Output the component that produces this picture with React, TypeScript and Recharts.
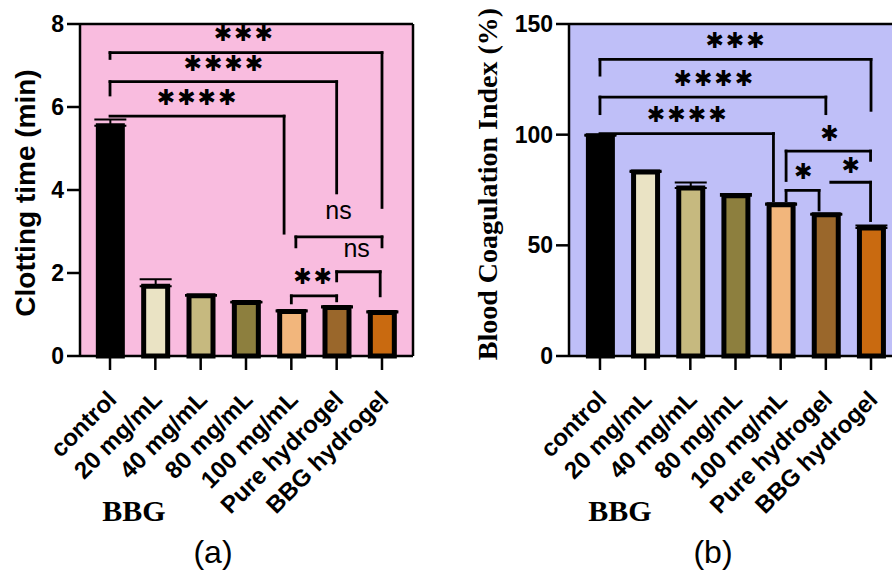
import React from 'react';
import {
  BarChart,
  Bar,
  XAxis,
  YAxis,
  Cell,
  ErrorBar,
  CartesianGrid,
  ReferenceLine,
  ReferenceDot,
} from 'recharts';

const groups = ['control', '20 mg/mL', '40 mg/mL', '80 mg/mL', '100 mg/mL', 'Pure hydrogel', 'BBG hydrogel'];
const barColors = ['#000000', '#EAE3C4', '#C6B97F', '#8D7F3E', '#F2B67C', '#9A672B', '#C96A10'];
const groupIndex = [0, 1, 2, 3, 4, 5, 6];

// (a) clotting time, min
const clottingTime = [5.55, 1.68, 1.45, 1.29, 1.07, 1.17, 1.05];
const clottingSd = [0.15, 0.17, 0.02, 0.02, 0.03, 0.03, 0.03];
const clottingTicks = [0, 2, 4, 6, 8];

// (b) blood coagulation index, %
const bciValues = [99.5, 83.1, 75.9, 72.4, 68.3, 63.8, 57.8];
const bciSd = [0.5, 0.6, 2.5, 0.8, 0.6, 0.5, 1.2];
const bciTicks = [0, 50, 100, 150];

// significance brackets: group index range, bar level, where each leg ends
type Bracket = { from: number; to: number; y: number; fromEnd: number; toEnd: number };
type Mark = { x: number; y: number; text: string };

const clottingBrackets: Bracket[] = [
  { from: 0, to: 3.84, y: 5.78, fromEnd: 5.78, toEnd: 2.96 },
  { from: 0, to: 5.0, y: 6.61, fromEnd: 6.29, toEnd: 3.93 },
  { from: 0, to: 6.0, y: 7.31, fromEnd: 7.17, toEnd: 3.58 },
  { from: 4.1, to: 6.0, y: 2.87, fromEnd: 2.63, toEnd: 2.63 },
  { from: 5.0, to: 5.96, y: 2.03, fromEnd: 1.81, toEnd: 1.45 },
  { from: 4.0, to: 5.0, y: 1.45, fromEnd: 1.28, toEnd: 1.33 },
];
const clottingMarks: Mark[] = [
  { x: 1.91, y: 6.25, text: '****' },
  { x: 2.5, y: 7.05, text: '****' },
  { x: 2.94, y: 7.78, text: '***' },
  { x: 5.04, y: 3.48, text: 'ns' },
  { x: 5.44, y: 2.55, text: 'ns' },
  { x: 4.47, y: 1.93, text: '**' },
];

const bciBrackets: Bracket[] = [
  { from: 0, to: 6, y: 134, fromEnd: 126.9, toEnd: 111 },
  { from: 0, to: 5.0, y: 117, fromEnd: 109.5, toEnd: 109.5 },
  { from: 0, to: 3.84, y: 100.5, fromEnd: 100.5, toEnd: 70.2 },
  { from: 4.12, to: 5.99, y: 92.6, fromEnd: 79.3, toEnd: 88.4 },
  { from: 4.12, to: 4.85, y: 74.8, fromEnd: 70.2, toEnd: 66 },
  { from: 5.11, to: 5.99, y: 78.5, fromEnd: 78.5, toEnd: 61.2 },
];
const bciMarks: Mark[] = [
  { x: 2.99, y: 142.7, text: '***' },
  { x: 2.51, y: 125.8, text: '****' },
  { x: 1.92, y: 109.5, text: '****' },
  { x: 5.08, y: 100.7, text: '*' },
  { x: 4.5, y: 83.4, text: '*' },
  { x: 5.55, y: 86.5, text: '*' },
];

const SANS = '"Liberation Sans", Arial, sans-serif';
const SERIF = '"Liberation Serif", "Times New Roman", serif';

const GroupTick = (props: any) => {
  const { x, y, payload } = props;
  return (
    <g transform={`translate(${x},${y})`}>
      <text
        x={0}
        y={0}
        transform="translate(8,29) rotate(-45)"
        textAnchor="end"
        fontFamily={SANS}
        fontWeight="bold"
        fontSize={24}
        fill="#000"
      >
        {groups[payload.value]}
      </text>
    </g>
  );
};

const AxisTitle = (props: any) => {
  const { viewBox, value, dx, dy, font, size } = props;
  const cx = viewBox.x + dx;
  const cy = viewBox.y + viewBox.height / 2 + dy;
  return (
    <text
      x={cx}
      y={cy}
      transform={`rotate(-90 ${cx} ${cy})`}
      textAnchor="middle"
      dominantBaseline="central"
      fontFamily={font}
      fontWeight="bold"
      fontSize={size}
      fill="#000"
    >
      {value}
    </text>
  );
};

// heavy asterisk glyph keeps the star rows compact
const SigText = (props: any) => {
  const { viewBox, text } = props;
  const cx = viewBox.x + viewBox.width / 2;
  const cy = viewBox.y + viewBox.height / 2;
  if (text === 'ns') {
    return (
      <text x={cx} y={cy + 7} textAnchor="middle" fontFamily={SANS} fontSize={25} fill="#000">
        {text}
      </text>
    );
  }
  return (
    <text
      x={cx + 1}
      y={cy + 8}
      textAnchor="middle"
      fontFamily='"DejaVu Sans", sans-serif'
      fontSize={22}
      letterSpacing={2}
      fill="#000"
    >
      {text.replace(/\*/g, '\u2731')}
    </text>
  );
};

function bracketLines(b: Bracket, i: number) {
  const segs: { x: number; y: number }[][] = [];
  if (b.fromEnd !== b.y) segs.push([{ x: b.from, y: b.fromEnd }, { x: b.from, y: b.y }]);
  segs.push([{ x: b.from, y: b.y }, { x: b.to, y: b.y }]);
  if (b.toEnd !== b.y) segs.push([{ x: b.to, y: b.y }, { x: b.to, y: b.toEnd }]);
  return segs.map((s, j) => (
    <ReferenceLine key={`br-${i}-${j}`} segment={s} stroke="#000" strokeWidth={2.8} strokeLinecap="square" />
  ));
}

type PanelProps = {
  values: number[];
  sd: number[];
  ticks: number[];
  brackets: Bracket[];
  marks: Mark[];
  background: string;
  width: number;
  axisWidth: number;
  marginRight: number;
  xDomain: [number, number];
  title: string;
  titleFont: string;
  titleSize: number;
  titleDx: number;
  titleDy: number;
};

function Panel(p: PanelProps) {
  const data = groupIndex.map((i) => ({ idx: i, value: p.values[i], sd: [0, p.sd[i]] }));
  const yMax = p.ticks[p.ticks.length - 1];
  return (
    <BarChart
      width={p.width}
      height={575}
      data={data}
      margin={{ top: 24, right: p.marginRight, bottom: 0, left: 0 }}
    >
      <CartesianGrid horizontal={false} vertical={false} fill={p.background} fillOpacity={1} />
      <XAxis
        dataKey="idx"
        type="number"
        domain={p.xDomain}
        ticks={groupIndex}
        interval={0}
        height={219}
        tickSize={14}
        tick={<GroupTick />}
        axisLine={{ stroke: '#000', strokeWidth: 2.5 }}
        tickLine={{ stroke: '#000', strokeWidth: 2.5 }}
      />
      <YAxis
        domain={[0, yMax]}
        ticks={p.ticks}
        width={p.axisWidth}
        tickSize={13}
        tickMargin={3}
        tick={{ fontSize: 23, fontWeight: 'bold', fill: '#000', fontFamily: SANS }}
        axisLine={{ stroke: '#000', strokeWidth: 2.5 }}
        tickLine={{ stroke: '#000', strokeWidth: 2.5 }}
        label={
          <AxisTitle value={p.title} dx={p.titleDx} dy={p.titleDy} font={p.titleFont} size={p.titleSize} />
        }
      />
      <ReferenceLine y={yMax} stroke="#000" strokeWidth={2.5} />
      <ReferenceLine x={p.xDomain[1]} stroke="#000" strokeWidth={2.5} />
      <Bar dataKey="value" barSize={24} stroke="#000" strokeWidth={5} isAnimationActive={false}>
        {groupIndex.map((i) => (
          <Cell key={i} fill={barColors[i]} />
        ))}
        <ErrorBar dataKey="sd" width={16} stroke="#000" strokeWidth={2} direction="y" />
      </Bar>
      {p.brackets.map((b, i) => bracketLines(b, i))}
      {p.marks.map((m, i) => (
        <ReferenceDot
          key={`mk-${i}`}
          x={m.x}
          y={m.y}
          r={1}
          fill="none"
          stroke="none"
          label={<SigText text={m.text} />}
        />
      ))}
    </BarChart>
  );
}

export default function App() {
  return (
    <div
      style={{
        position: 'absolute',
        left: 0,
        top: 0,
        width: 892,
        height: 575,
        overflow: 'hidden',
        background: '#fff',
      }}
    >
      <div style={{ position: 'absolute', left: 0, top: 0 }}>
        <Panel
          values={clottingTime}
          sd={clottingSd}
          ticks={clottingTicks}
          brackets={clottingBrackets}
          marks={clottingMarks}
          background="#F9BCDF"
          width={420}
          axisWidth={80}
          marginRight={7}
          xDomain={[-0.662, 6.684]}
          title="Clotting time (min)"
          titleFont={SANS}
          titleSize={28}
          titleDx={25}
          titleDy={3}
        />
      </div>
      <div style={{ position: 'absolute', left: 440, top: 0 }}>
        <Panel
          values={bciValues}
          sd={bciSd}
          ticks={bciTicks}
          brackets={bciBrackets}
          marks={bciMarks}
          background="#BFBFF8"
          width={467}
          axisWidth={129}
          marginRight={5}
          xDomain={[-0.686, 6.686]}
          title="Blood Coagulation Index (%)"
          titleFont={SERIF}
          titleSize={28}
          titleDx={47}
          titleDy={-6}
        />
      </div>
      <svg width={892} height={575} style={{ position: 'absolute', left: 0, top: 0, pointerEvents: 'none' }}>
        <text x={134} y={521} textAnchor="middle" fontFamily={SERIF} fontWeight="bold" fontSize={30} fill="#000">
          BBG
        </text>
        <text x={213} y={563} textAnchor="middle" fontFamily={SANS} fontSize={32} fill="#000">
          (a)
        </text>
        <text x={620} y={521} textAnchor="middle" fontFamily={SERIF} fontWeight="bold" fontSize={30} fill="#000">
          BBG
        </text>
        <text x={713} y={563} textAnchor="middle" fontFamily={SANS} fontSize={32} fill="#000">
          (b)
        </text>
      </svg>
    </div>
  );
}
